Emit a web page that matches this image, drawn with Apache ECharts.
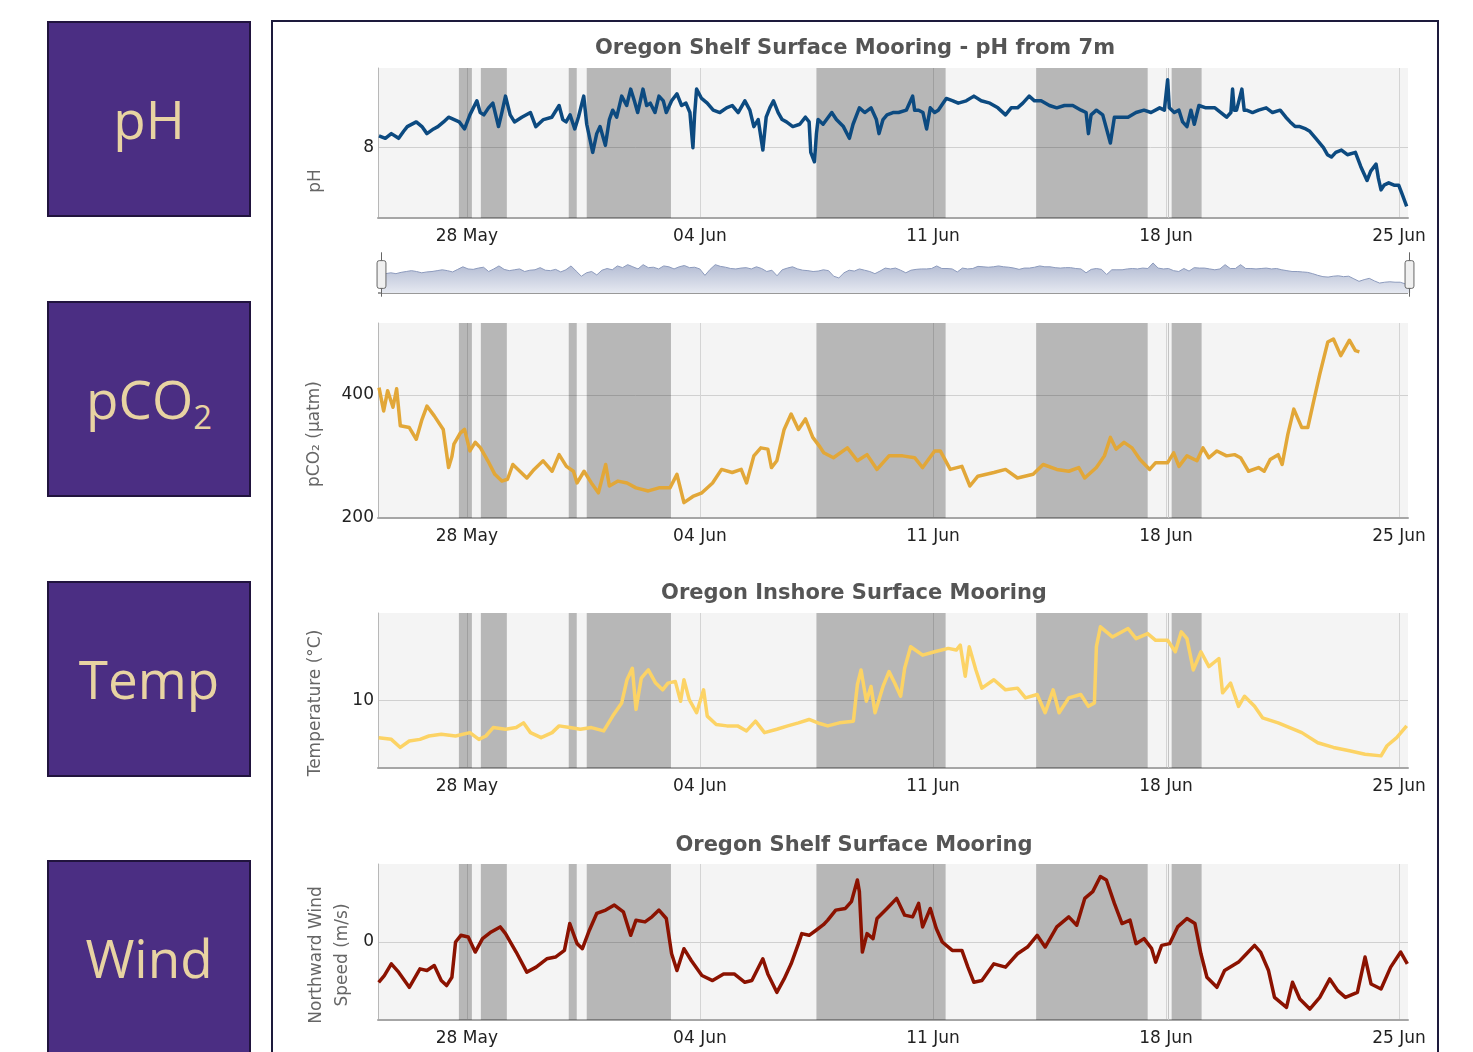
<!DOCTYPE html>
<html>
<head>
<meta charset="utf-8">
<title>Oregon moorings</title>
<script src="https://cdn.jsdelivr.net/npm/echarts@6/dist/echarts.min.js"></script>
<style>
  html, body { margin: 0; padding: 0; background: #fff; overflow: hidden; }
  #page { position: relative; width: 1473px; height: 1052px; overflow: hidden; }
  .tile {
    position: absolute; left: 47px; width: 200px; height: 192px;
    background: #4b2e83; border: 2px solid #21143e; color: #e8d3a2;
    font-family: "Open Sans", sans-serif; font-size: 53px;
    display: flex; align-items: center; justify-content: center;
  }
  .tile span { display: inline-block; line-height: 1.2; }
  .tile sub { font-size: 0.62em; line-height: 0; vertical-align: -0.3em; }
  #panel { position: absolute; left: 271px; top: 20px; width: 1164px; height: 1100px; border: 2px solid #1d1a3c; }
  #chart { position: absolute; left: 0; top: 0; width: 1473px; height: 1052px; }
</style>
</head>
<body>
<div id="page">
  <div class="tile" style="top:21px"><span>pH</span></div>
  <div class="tile" style="top:301px"><span>pCO<sub>2</sub></span></div>
  <div class="tile" style="top:581px"><span>Temp</span></div>
  <div class="tile" style="top:860px"><span>Wind</span></div>
  <div id="panel"></div>
  <div id="chart"></div>
</div>
<script>
// x values are days from 28 May 00:00
var tickDays = [0, 7, 14, 21, 28];
var tickLabels = ['28 May', '04 Jun', '11 Jun', '18 Jun', '25 Jun'];
var dayMin = -2.67, dayMax = 28.27;

// shaded periods [start, end] and a single marker line
var bands = [[-0.24, 0.15], [0.42, 1.2], [3.06, 3.3], [3.6, 6.13], [10.5, 14.38], [17.1, 20.45], [21.17, 22.07]];
var eventDays = [21.08];

var phTicks = [8];
var pco2Ticks = [200, 400];
var tempTicks = [10];
var windTicks = [0];

var phData = [
  [-2.64,8.05],[-2.45,8.04],[-2.27,8.06],[-2.05,8.04],[-1.9,8.07],[-1.79,8.09],[-1.52,8.11],[-1.35,8.09],[-1.2,8.06],[-1.0,8.08],
  [-0.87,8.09],[-0.7,8.11],[-0.55,8.13],[-0.23,8.11],[-0.07,8.08],[0.09,8.14],[0.3,8.2],[0.4,8.15],[0.51,8.14],[0.65,8.17],
  [0.78,8.19],[0.95,8.09],[1.05,8.15],[1.16,8.22],[1.3,8.14],[1.43,8.11],[1.65,8.13],[1.91,8.15],[2.07,8.09],[2.3,8.12],
  [2.55,8.13],[2.77,8.18],[2.88,8.12],[2.98,8.11],[3.1,8.14],[3.24,8.08],[3.35,8.13],[3.51,8.22],[3.6,8.1],[3.78,7.98],
  [3.9,8.06],[4.0,8.09],[4.16,8.01],[4.28,8.12],[4.38,8.16],[4.5,8.13],[4.65,8.22],[4.8,8.18],[4.92,8.25],[5.03,8.2],
  [5.13,8.15],[5.29,8.25],[5.4,8.18],[5.51,8.19],[5.65,8.15],[5.77,8.22],[5.9,8.2],[5.99,8.15],[6.15,8.2],[6.31,8.23],
  [6.45,8.18],[6.58,8.19],[6.7,8.15],[6.79,8.0],[6.84,8.14],[6.9,8.25],[7.05,8.21],[7.22,8.19],[7.4,8.16],[7.6,8.15],
  [7.8,8.17],[7.97,8.18],[8.15,8.15],[8.35,8.2],[8.5,8.16],[8.62,8.09],[8.75,8.12],[8.89,7.99],[8.99,8.13],[9.1,8.17],
  [9.21,8.2],[9.35,8.15],[9.47,8.12],[9.6,8.11],[9.79,8.09],[10.0,8.1],[10.17,8.13],[10.28,8.11],[10.33,7.98],[10.44,7.94],
  [10.5,8.06],[10.55,8.12],[10.7,8.1],[10.96,8.15],[11.1,8.12],[11.31,8.09],[11.49,8.04],[11.6,8.1],[11.79,8.17],[11.95,8.15],
  [12.14,8.17],[12.3,8.12],[12.38,8.06],[12.5,8.12],[12.62,8.14],[12.8,8.15],[12.97,8.15],[13.2,8.16],[13.39,8.22],[13.45,8.16],
  [13.57,8.16],[13.7,8.15],[13.81,8.08],[13.92,8.17],[14.05,8.15],[14.16,8.16],[14.4,8.21],[14.6,8.2],[14.76,8.19],[15.0,8.2],
  [15.23,8.22],[15.45,8.2],[15.71,8.19],[15.95,8.17],[16.18,8.14],[16.35,8.17],[16.54,8.17],[16.7,8.19],[16.89,8.22],[17.05,8.2],
  [17.25,8.2],[17.5,8.18],[17.72,8.17],[17.95,8.18],[18.2,8.18],[18.45,8.16],[18.6,8.15],[18.67,8.06],[18.75,8.14],[18.91,8.16],
  [19.1,8.14],[19.33,8.02],[19.45,8.13],[19.65,8.13],[19.86,8.13],[20.1,8.15],[20.34,8.16],[20.55,8.15],[20.81,8.17],[20.95,8.16],
  [21.05,8.29],[21.1,8.17],[21.25,8.15],[21.39,8.16],[21.5,8.11],[21.63,8.09],[21.75,8.16],[21.85,8.1],[21.99,8.18],[22.2,8.17],
  [22.47,8.17],[22.65,8.15],[22.82,8.13],[22.95,8.15],[23.0,8.25],[23.05,8.16],[23.12,8.16],[23.28,8.25],[23.35,8.16],[23.42,8.16],
  [23.6,8.15],[23.78,8.16],[24.01,8.17],[24.2,8.15],[24.43,8.16],[24.6,8.13],[24.73,8.11],[24.88,8.09],[25.02,8.09],[25.2,8.08],
  [25.32,8.07],[25.5,8.04],[25.73,8.0],[25.85,7.97],[25.97,7.96],[26.1,7.98],[26.27,7.99],[26.45,7.97],[26.69,7.98],[26.85,7.92],
  [27.04,7.86],[27.15,7.9],[27.31,7.93],[27.38,7.87],[27.46,7.82],[27.55,7.84],[27.69,7.85],[27.85,7.84],[27.99,7.84],[28.1,7.8],
  [28.23,7.75]
];

var pco2Data = [
  [-2.64,412],[-2.5,374],[-2.38,407],[-2.22,380],[-2.11,410],[-2.0,350],[-1.73,347],[-1.52,328],[-1.35,360],[-1.2,382],
  [-0.98,366],[-0.71,344],[-0.55,282],[-0.45,300],[-0.39,320],[-0.2,338],[-0.07,344],[0.09,309],[0.25,323],[0.41,314],
  [0.63,293],[0.84,271],[1.05,260],[1.22,263],[1.38,287],[1.59,276],[1.8,265],[2.02,279],[2.29,293],[2.56,276],
  [2.77,303],[2.99,284],[3.2,276],[3.31,257],[3.52,276],[3.74,257],[3.95,241],[4.17,287],[4.28,252],[4.54,260],
  [4.81,257],[5.08,249],[5.45,244],[5.77,249],[6.1,249],[6.31,271],[6.52,225],[6.79,235],[7.06,241],[7.38,257],
  [7.65,279],[7.97,274],[8.24,279],[8.4,257],[8.62,301],[8.83,314],[9.04,312],[9.15,282],[9.31,293],[9.53,344],
  [9.74,369],[9.96,344],[10.17,361],[10.39,331],[10.6,316],[10.72,306],[11.01,298],[11.43,314],[11.73,293],[12.02,303],
  [12.32,279],[12.68,301],[13.09,301],[13.45,298],[13.69,282],[14.05,309],[14.22,309],[14.52,279],[14.87,284],[15.11,252],
  [15.35,268],[15.83,274],[16.18,279],[16.54,265],[17.01,271],[17.31,287],[17.72,279],[18.08,276],[18.38,282],[18.56,265],
  [18.91,282],[19.15,301],[19.33,331],[19.5,312],[19.74,323],[19.98,314],[20.22,295],[20.51,279],[20.69,290],[21.05,290],
  [21.23,306],[21.39,284],[21.63,301],[21.93,293],[22.11,314],[22.29,298],[22.53,309],[22.82,301],[23.06,303],[23.24,298],
  [23.48,276],[23.78,282],[23.95,276],[24.13,295],[24.37,303],[24.49,287],[24.66,336],[24.84,377],[25.08,347],[25.26,347],
  [25.44,391],[25.62,434],[25.86,486],[26.03,491],[26.25,464],[26.51,489],[26.69,472],[26.81,470]
];

var tempData = [
  [-2.65,8.9],[-2.27,8.85],[-2.0,8.61],[-1.73,8.8],[-1.41,8.85],[-1.14,8.95],[-0.77,9.0],[-0.34,8.95],[0.09,9.05],[0.36,8.85],
  [0.57,8.95],[0.79,9.2],[1.16,9.15],[1.48,9.2],[1.7,9.34],[1.91,9.05],[2.23,8.9],[2.56,9.05],[2.77,9.25],[3.09,9.2],
  [3.41,9.15],[3.74,9.2],[4.11,9.1],[4.38,9.54],[4.65,9.93],[4.81,10.62],[4.97,10.96],[5.08,9.74],[5.24,10.67],[5.45,10.91],
  [5.67,10.52],[5.88,10.32],[6.04,10.52],[6.26,10.57],[6.42,9.98],[6.52,10.62],[6.68,10.03],[6.9,9.64],[7.11,10.32],[7.22,9.54],
  [7.49,9.29],[7.81,9.25],[8.13,9.25],[8.4,9.1],[8.67,9.39],[8.94,9.05],[9.31,9.15],[9.64,9.25],[9.96,9.34],[10.28,9.44],
  [10.6,9.32],[10.84,9.25],[11.19,9.34],[11.61,9.39],[11.73,10.47],[11.84,10.91],[12.0,9.98],[12.14,10.42],[12.26,9.64],[12.5,10.42],
  [12.68,10.86],[12.85,10.52],[13.03,10.13],[13.15,10.96],[13.33,11.6],[13.69,11.35],[14.05,11.45],[14.46,11.55],[14.7,11.5],[14.82,11.65],
  [14.97,10.72],[15.09,11.6],[15.29,10.91],[15.47,10.37],[15.83,10.62],[16.18,10.32],[16.54,10.37],[16.78,10.08],[17.13,10.18],[17.37,9.64],
  [17.61,10.32],[17.79,9.64],[18.08,10.08],[18.44,10.18],[18.67,9.83],[18.85,9.93],[18.91,11.6],[19.03,12.19],[19.39,11.89],[19.86,12.14],
  [20.1,11.84],[20.45,11.99],[20.69,11.79],[21.05,11.79],[21.28,11.45],[21.46,12.04],[21.63,11.84],[21.82,10.91],[22.05,11.45],[22.29,11.01],
  [22.59,11.25],[22.7,10.23],[22.94,10.52],[23.18,9.83],[23.36,10.13],[23.66,9.83],[23.9,9.49],[24.37,9.34],[25.08,9.05],[25.56,8.75],
  [26.03,8.61],[26.51,8.51],[26.98,8.41],[27.46,8.36],[27.64,8.66],[27.93,8.9],[28.23,9.25]
];

var windData = [
  [-2.65,-4.65],[-2.48,-3.87],[-2.27,-2.52],[-2.05,-3.48],[-1.73,-5.23],[-1.41,-3.1],[-1.2,-3.29],[-0.98,-2.71],[-0.77,-4.45],[-0.61,-5.03],
  [-0.45,-4.07],[-0.34,0.0],[-0.18,0.77],[0.04,0.58],[0.25,-1.16],[0.47,0.39],[0.73,1.16],[1.0,1.74],[1.16,0.97],[1.48,-1.16],
  [1.8,-3.48],[2.08,-2.9],[2.4,-1.94],[2.66,-1.74],[2.93,-0.97],[3.09,2.13],[3.31,-0.19],[3.47,-0.77],[3.68,1.36],[3.9,3.29],
  [4.17,3.68],[4.43,4.26],[4.7,3.48],[4.92,0.77],[5.08,2.52],[5.35,2.32],[5.56,2.9],[5.77,3.68],[5.99,2.71],[6.15,-1.36],
  [6.31,-3.29],[6.52,-0.77],[6.74,-2.13],[7.06,-3.87],[7.38,-4.45],[7.71,-3.68],[8.03,-3.68],[8.35,-4.65],[8.56,-4.45],[8.89,-1.94],
  [9.04,-3.68],[9.31,-5.81],[9.53,-4.26],[9.74,-2.52],[9.96,-0.19],[10.06,0.97],[10.28,0.77],[10.49,1.36],[10.71,2.0],[10.84,2.52],
  [11.08,3.68],[11.37,3.87],[11.55,4.65],[11.73,7.16],[11.79,5.81],[11.88,-1.16],[12.02,0.97],[12.2,0.39],[12.32,2.71],[12.62,3.87],
  [12.91,5.03],[13.15,3.1],[13.39,2.9],[13.57,4.45],[13.69,1.74],[13.92,3.87],[14.1,1.55],[14.28,0.0],[14.58,-0.97],[14.87,-0.97],
  [15.05,-2.9],[15.23,-4.65],[15.47,-4.45],[15.83,-2.52],[16.18,-2.9],[16.54,-1.36],[16.84,-0.58],[17.13,0.77],[17.37,-0.58],[17.72,1.74],
  [18.08,2.9],[18.32,1.94],[18.56,5.03],[18.8,5.81],[19.03,7.55],[19.21,7.16],[19.45,4.45],[19.68,2.13],[19.92,2.52],[20.1,-0.19],
  [20.34,0.39],[20.57,-0.77],[20.69,-2.32],[20.87,-0.39],[21.11,-0.19],[21.35,1.74],[21.63,2.71],[21.87,2.13],[22.05,-1.36],[22.23,-4.07],
  [22.53,-5.23],[22.76,-3.29],[23.18,-2.32],[23.42,-1.36],[23.66,-0.39],[23.84,-1.16],[24.08,-3.29],[24.26,-6.39],[24.62,-7.55],[24.8,-4.65],
  [25.02,-6.58],[25.32,-7.74],[25.62,-6.39],[25.92,-4.26],[26.16,-5.61],[26.39,-6.39],[26.75,-5.81],[26.98,-1.74],[27.16,-4.84],[27.46,-5.42],
  [27.75,-2.9],[28.05,-1.16],[28.25,-2.52]
];

var FONT = 'DejaVu Sans';

// plot panels, top to bottom
var panels = [
  { top: 68,  height: 150, min: 7.7, max: 8.34, ticks: phTicks,   data: phData,   color: '#0c4a80' },
  { top: 323, height: 195, min: 200, max: 517,  ticks: pco2Ticks, data: pco2Data, color: '#e2a738' },
  { top: 613, height: 155, min: 8,   max: 12.6, ticks: tempTicks, data: tempData, color: '#fcd365' },
  { top: 864, height: 156, min: -9,  max: 9,    ticks: windTicks, data: windData, color: '#8b1200' }
];

var grids = [], xAxes = [], yAxes = [], series = [];

panels.forEach(function (p, i) {
  grids.push({
    left: 378, width: 1030, top: p.top, height: p.height,
    show: true, backgroundColor: '#f4f4f4', borderWidth: 0,
    outerBoundsMode: 'none'
  });
  xAxes.push({
    type: 'value', gridIndex: i, min: dayMin, max: dayMax,
    axisLine: { show: true, onZero: false, lineStyle: { color: '#a6a6a6', width: 2 } },
    axisTick: { show: false, customValues: tickDays },
    axisLabel: {
      customValues: tickDays, margin: 10, color: '#222', fontSize: 17, fontFamily: FONT,
      formatter: function (v) { return tickLabels[tickDays.indexOf(Math.round(v))]; }
    },
    splitLine: { show: true, lineStyle: { color: '#d4d4d4', width: 1 } }
  });
  yAxes.push({
    type: 'value', gridIndex: i, min: p.min, max: p.max,
    axisLine: { show: true, onZero: false, lineStyle: { color: '#b8b8b8', width: 1 } },
    axisTick: { show: false, customValues: p.ticks },
    axisLabel: { customValues: p.ticks, margin: 4, color: '#222', fontSize: 17, fontFamily: FONT },
    splitLine: { show: true, lineStyle: { color: '#d0d0d0', width: 1 } }
  });
  series.push({
    type: 'line', xAxisIndex: i, yAxisIndex: i, data: p.data,
    showSymbol: false, smooth: false, clip: true,
    lineStyle: { color: p.color, width: 3.5, join: 'round' },
    itemStyle: { color: p.color },
    markArea: {
      silent: true,
      itemStyle: { color: 'rgba(0,0,0,0.25)', borderWidth: 0 },
      data: bands.map(function (b) { return [{ xAxis: b[0] }, { xAxis: b[1] }]; })
    },
    markLine: {
      silent: true, symbol: 'none', z: 1.5,
      label: { show: false },
      lineStyle: { color: '#c4c4c4', type: 'solid', width: 1 },
      data: eventDays.map(function (d) { return { xAxis: d }; })
    }
  });
});

var titleStyle = { fontFamily: FONT, fontWeight: 'bold', fontSize: 21, color: '#555' };
var nameStyle = { fill: '#666', fontFamily: FONT, fontSize: 17, align: 'center', verticalAlign: 'middle' };

function axisName(text, x, y) {
  return { type: 'text', x: x, y: y, rotation: Math.PI / 2, style: Object.assign({ text: text, lineHeight: 26 }, nameStyle) };
}

var navFill = function () {
  return new echarts.graphic.LinearGradient(0, 0, 0, 1, [
    { offset: 0, color: '#e6e9f1' }, { offset: 1, color: '#b1bad2' }]);
};

var chart = echarts.init(document.getElementById('chart'), null, { renderer: 'canvas' });
chart.setOption({
  animation: false,
  backgroundColor: 'transparent',
  title: [
    { text: 'Oregon Shelf Surface Mooring - pH from 7m', left: 850, top: 33, textAlign: 'center', textStyle: titleStyle },
    { text: 'Oregon Inshore Surface Mooring', left: 849, top: 578, textAlign: 'center', textStyle: titleStyle },
    { text: 'Oregon Shelf Surface Mooring', left: 849, top: 830, textAlign: 'center', textStyle: titleStyle }
  ],
  grid: grids,
  xAxis: xAxes,
  yAxis: yAxes,
  dataZoom: [{
    type: 'slider', xAxisIndex: [0, 1, 2, 3], filterMode: 'none',
    left: 378, width: 1030, top: 256, height: 37,
    start: 0, end: 100,
    showDetail: false, brushSelect: false, moveHandleSize: 0,
    backgroundColor: 'rgba(0,0,0,0)',
    borderColor: 'rgba(0,0,0,0)',
    fillerColor: 'rgba(0,0,0,0)',
    handleIcon: 'path://M-9.35,34.56V42m0-40V9.5m-2,0h4a2,2,0,0,1,2,2v21a2,2,0,0,1-2,2h-4a2,2,0,0,1-2-2v-21a2,2,0,0,1,2-2Z',
    handleSize: '120%',
    handleStyle: { color: '#f0f0f0', borderColor: '#666', borderWidth: 1 },
    dataBackground: {
      lineStyle: { color: '#8d9bbd', width: 1, opacity: 1 },
      areaStyle: { color: navFill(), opacity: 1 }
    },
    selectedDataBackground: {
      lineStyle: { color: '#8d9bbd', width: 1, opacity: 1 },
      areaStyle: { color: navFill(), opacity: 1 }
    }
  }],
  graphic: [
    axisName('pH', 316, 181),
    axisName('pCO₂ (μatm)', 315, 434),
    axisName('Temperature (°C)', 316, 703),
    axisName('Northward Wind\nSpeed (m/s)', 330, 955),
    // navigator baseline
    { type: 'line', shape: { x1: 378, y1: 293, x2: 1408, y2: 293 }, style: { stroke: '#777', lineWidth: 1.5 } }
  ],
  series: series
});
</script>
</body>
</html>
